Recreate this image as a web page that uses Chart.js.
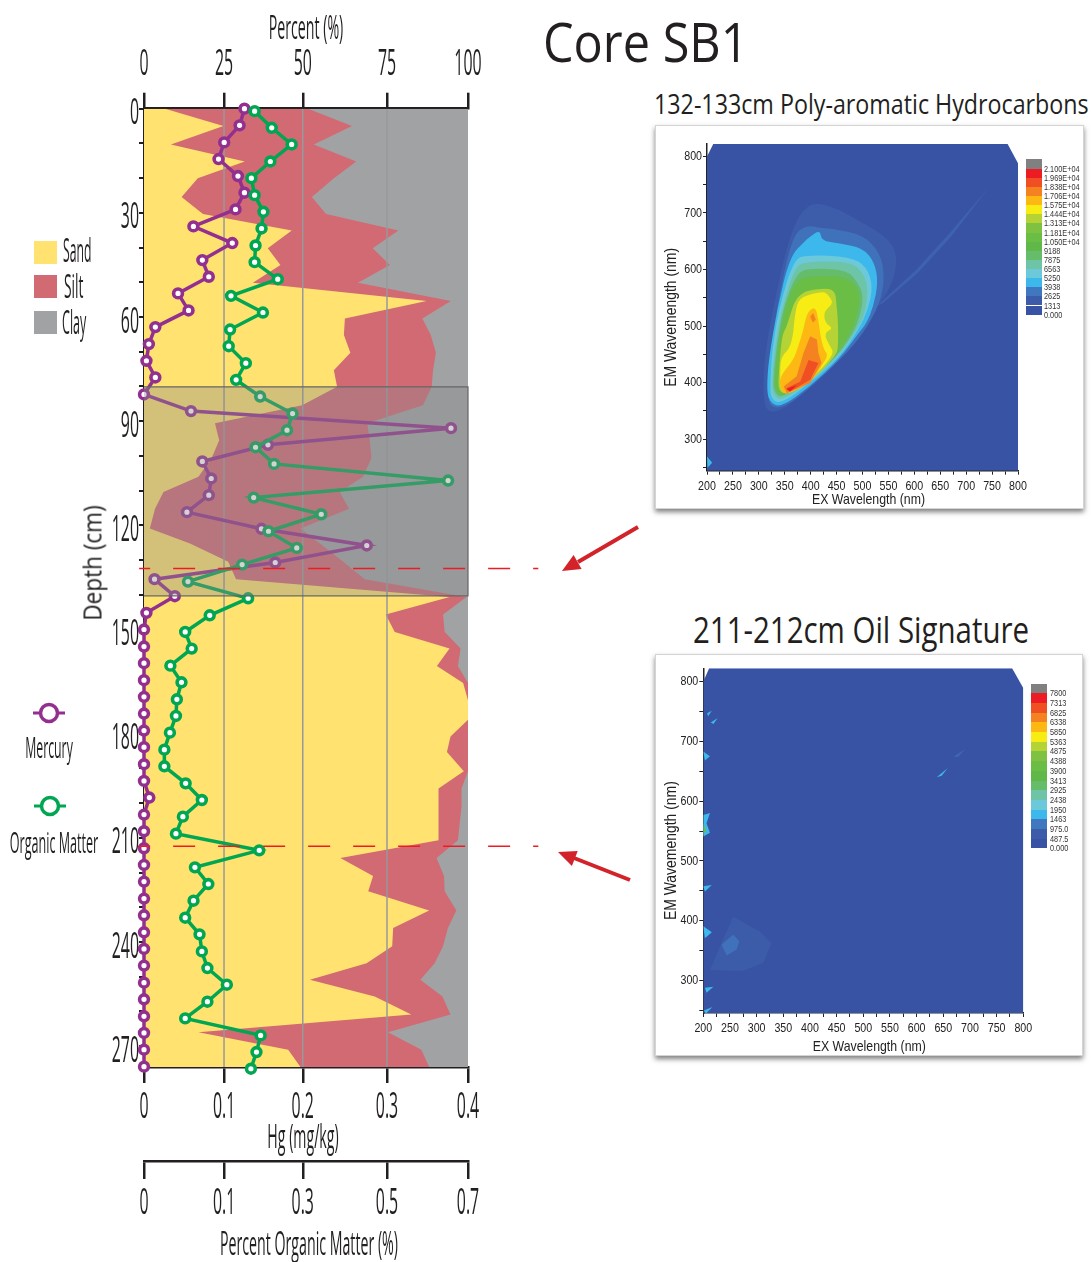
<!DOCTYPE html>
<html>
<head>
<meta charset="utf-8">
<title>Core SB1</title>
<script src="https://cdn.jsdelivr.net/npm/chart.js@4"></script>
<style>
  html, body { margin: 0; background: #fff; }
  body { position: relative; width: 1092px; height: 1262px; overflow: hidden; font-family: "Open Sans", sans-serif; color: #231f20; }
  canvas { position: absolute; display: block; }
  .txt { position: absolute; white-space: nowrap; line-height: 1; }
  .card { position: absolute; background: #fff; border: 1px solid #d4d4d4; box-sizing: border-box; box-shadow: 0 3px 5px rgba(0,0,0,.5); }
  .swatch { position: absolute; width: 23px; height: 23px; }
  .band { position: absolute; }
  .lvl { position: absolute; font: 8.5px "Liberation Sans", sans-serif; line-height: 1; white-space: nowrap; transform: scaleX(.86); transform-origin: left center; color: #333; }
</style>
</head>
<body>

<div class="txt" style="left:543px;top:14px;font-size:54px;transform:scaleX(.9);transform-origin:left">Core SB1</div>
<div class="txt" style="left:654px;top:90px;font-size:27px;transform:scaleX(.861);transform-origin:left">132-133cm Poly-aromatic Hydrocarbons</div>
<div class="txt" style="left:693px;top:612px;font-size:36px;transform:scaleX(.818);transform-origin:left">211-212cm Oil Signature</div>

<div class="card" style="left:655px;top:125px;width:429px;height:384px"></div>
<div class="card" style="left:655px;top:654px;width:428px;height:402px"></div>

<canvas id="core" width="560" height="1262" style="left:0;top:0"></canvas>
<canvas id="pah" width="429" height="384" style="left:655px;top:125px;filter:blur(.4px)"></canvas>
<canvas id="oil" width="428" height="402" style="left:655px;top:654px;filter:blur(.4px)"></canvas>

<div class="txt" style="left:92px;top:563px;font-size:25px;transform:translate(-50%,-50%) rotate(-90deg) scaleX(.9)">Depth (cm)</div>

<!-- legend -->
<div class="swatch" style="left:34px;top:241px;background:#ffe26f"></div>
<div class="swatch" style="left:34px;top:275px;background:#d26a74"></div>
<div class="swatch" style="left:34px;top:311px;background:#a0a2a4"></div>
<div class="txt" style="left:63px;top:233px;font-size:33px;transform:scaleX(.37);transform-origin:left">Sand</div>
<div class="txt" style="left:64px;top:269px;font-size:33px;transform:scaleX(.42);transform-origin:left">Silt</div>
<div class="txt" style="left:62px;top:305px;font-size:33px;transform:scaleX(.38);transform-origin:left">Clay</div>

<svg width="1092" height="1262" style="position:absolute;left:0;top:0;pointer-events:none">
  <line x1="33" y1="713" x2="65" y2="713" stroke="#93308f" stroke-width="3"/>
  <circle cx="49" cy="713" r="8.5" fill="#fff" stroke="#93308f" stroke-width="3.5"/>
  <line x1="34" y1="806" x2="66" y2="806" stroke="#00a651" stroke-width="3"/>
  <circle cx="50" cy="806" r="8.5" fill="#fff" stroke="#00a651" stroke-width="3.5"/>
  <line x1="638" y1="527" x2="578" y2="562" stroke="#d2232a" stroke-width="4"/>
  <polygon points="562,571 581.6,568.9 573.6,555.1" fill="#d2232a"/>
  <line x1="630" y1="880" x2="574" y2="858" stroke="#d2232a" stroke-width="4"/>
  <polygon points="558,852 571.9,866 577.7,851" fill="#d2232a"/>
</svg>
<div class="txt" style="left:49px;top:732px;font-size:30px;transform:translateX(-50%) scaleX(.41)">Mercury</div>
<div class="txt" style="left:54px;top:827px;font-size:30px;transform:translateX(-50%) scaleX(.42)">Organic Matter</div>

<div id="pahBar"></div>
<div id="oilBar"></div>

<script>
// grain size, cumulative percent at each sampled depth
const layerDepths = [0,5,10.3,15.2,20,25.4,30.3,35.1,40.2,45,50.1,55.4,60.4,65.2,70.3,75.3,80.1,85.4,90.6,95.5,100.6,106,110.4,115.2,120.9,125.2,130.5,135.5,140.6,145.7,150.7,155.5,160.5,165.4,170.4,176,180.8,185.3,190.8,195.8,200.9,210.7,215.8,221,225.4,230.9,236,241.2,246.1,250.9,255.7,260.9,266,271,276];
const sandEdge = [6.5,24.5,8.3,31.1,16.6,11.6,18.2,45.6,38.2,42.1,33.6,87.2,62,61.7,63.7,58.6,59.6,48.8,21.9,23.2,20.9,16.8,6,3.4,1.8,14.2,26,28.4,94.3,74.6,77.4,94.3,90.4,98.5,100,100,94.6,93.5,98.7,90.9,90.8,91,60.6,70.7,69.2,88,76.9,76.6,68.7,51.2,71.2,82.5,16.8,44.5,48.3];
const siltEdge = [50.6,64.2,52.4,65.5,58.6,51.8,56.2,78.5,70.6,75.9,66,94.7,85.9,88.5,90.1,89.2,88.8,86.1,68.9,69.7,70.2,67.6,60.4,63.3,48.3,54.3,61.5,68.1,99.5,92.3,92.8,97.7,96.9,100,100,100,100,100,100,98,98,96.9,90.3,92.6,92.8,96.4,93.8,92.3,89.7,85.3,92.1,94.6,75.3,85.6,88];

const hgDepths = [0,4.8,9.7,14.5,19.4,24.2,29,33.9,38.7,43.6,48.4,53.2,58.1,62.9,67.8,72.6,77.4,82.3,87.1,92,96.8,101.6,106.5,111.3,116.2,121,125.8,130.7,135.5,140.4,145.2,150,154.9,159.7,164.6,169.4,174.2,179.1,183.9,188.8,193.6,198.4,203.3,208.1,213,217.8,222.6,227.5,232.3,237.2,242,246.8,251.7,256.5,261.4,266.2,271,275.9];
const mercury = [.124,.118,.099,.092,.116,.124,.113,.061,.109,.072,.08,.042,.055,.014,.006,.003,.014,0,.058,.379,.153,.072,.083,.08,.053,.145,.275,.162,.013,.038,.003,0,0,0,0,0,0,0,0,0,0,.0066,0,0,0,0,0,0,0,0,0,0,0,0,0,0,0,0];

const omDepths = [.7,5.5,10.3,15.2,20,24.9,29.7,34.5,39.4,44.2,49.1,53.9,58.7,63.6,68.4,73.3,78.1,82.9,87.8,92.6,97.5,102.3,107.1,112,116.8,121.7,126.5,131.3,136.2,141,145.9,150.7,155.5,160.4,165.2,170.1,174.9,179.7,184.6,189.4,194.3,199.1,203.9,208.8,213.6,218.5,223.3,228.1,233,237.8,242.7,247.5,252.3,257.2,262,266.9,271.7,276.5];
const organicMatter = [.239,.276,.319,.273,.232,.239,.258,.254,.241,.239,.289,.188,.257,.186,.183,.22,.199,.251,.321,.309,.241,.281,.657,.237,.383,.269,.33,.212,.095,.225,.142,.089,.103,.057,.081,.071,.069,.056,.044,.044,.09,.125,.084,.069,.249,.11,.139,.107,.089,.12,.125,.137,.179,.137,.089,.252,.243,.231];

// axis ticks, the printed axes are not quite even
const percentTicks = [0,24.7,49,75,100];
const percentLabels = ['0','25','50','75','100'];
const hgTicks = [0,.099,.196,.3,.4];
const hgLabels = ['0','0.1','0.2','0.3','0.4'];
const omTicks = [0,.173,.343,.525,.7];
const omLabels = ['0','0.1','0.3','0.5','0.7'];

const shadedDepths = [80.1,140.3];
const markerDepths = [132.4,212.4];

// PAH excitation / emission contours [ex, em], lowest level first
const pahBase = [[200,800],[212,822],[780,822],[800,788],[800,244],[200,244]];
const pahStreak = [[527,535],[604,599.5],[668,664],[745,747],[671,658.5],[607,594],[540,541]];
const pahSpot = [[200,269],[210,258],[201,249]];
const pahL1 = [[309,352],[309,434.5],[328,535],[360,664],[392.5,717.5],[437,714.5],[502,682],[553,653],[569,617],[553,564],[527,535],[502,487],[457,440],[380,375.5],[335,346]];
const pahL2 = [[319,428.5],[335,535],[364,658.5],[392.5,679],[418,673],[437,673],[502,661],[534,629],[543,588],[534,540.6],[502,487],[457,440],[380,375.5],[338,352],[315.5,364]];
const pahL3 = [[315.5,393],[319,440],[335,529],[360,623],[389,650],[399,658.5],[418,670],[421,651],[450,647],[502,638],[524,611],[530,576],[521,535],[508,505],[492,487],[457,443],[399,393],[341,355],[319,367]];
const pahL4 = [[322,393],[325,452],[338,529],[367,617],[392.5,626],[476,623],[508,605],[520,570],[511,529],[492,493],[457,446],[399,399],[341,361],[323,372.5]];
const pahL5 = [[325,399],[331.5,464],[344,529],[370,605],[392.5,614],[476,614],[502,594],[511,564],[505,523],[489,493],[453,446],[399,402],[344,367],[328,378.5]];
const pahL6 = [[327,399],[335,470],[348,535],[373,594],[399,602.5],[470,599.5],[492,576],[502,552],[495,517],[482,487],[450,446],[399,405],[344,372.5],[331.5,381]];
const pahL7 = [[330,399],[338,470],[354,546.5],[376,582],[399,588],[463,588],[489,570],[495,552],[489,517],[476,487],[450,449],[399,405],[348,375.5],[335,384]];
const pahL8 = [[338,411],[344,482],[354,499],[373,558],[421,567],[447,564],[450,538],[453,505],[453,464],[450,449],[405,405],[351,378.5],[338,387]];
const pahL9 = [[341,411],[342,446],[364,464],[371,535],[383,552],[421,561],[431,558],[445,540.6],[425,526],[428,505],[444,496],[425,487],[437,464],[446,452],[412,414],[354,378.5],[342,387]];
const pahL10 = [[338,408],[367,440],[376,464],[386,493],[392.5,523],[409,535],[415,511],[418,487],[425,458],[434,449],[421,428.5],[399,399],[354,378.5],[344,384]];
const pahL11 = [[348,393],[373,411],[386,452],[399,482],[412,476],[415,452],[421,434.5],[399,399],[354,381]];
const pahBlob = [[399,517],[405,523],[410,511],[404,506]];
const pahL12 = [[353,390],[380,402],[396,440],[415,434.5],[399,405],[360,384]];
const pahL13 = [[353,388.5],[373,395],[360,384]];

// oil signature contours
const oilBase = [[200,800],[211,822],[779,822],[800,789],[800,246],[200,246]];
const oilHalo = [[212.5,318],[234,363],[256,407],[306,382],[328,363],[312.5,330],[275,316]];
const oilCore = [[234,360],[256,377],[267.5,366],[262.5,352],[244,342]];
const oilFaint = [[669,674],[691,687],[678,674]];
const oilSpots = [
  [[200,577],[212.5,580],[206,563],[212.5,547],[200,541]],
  [[200,683],[212.5,675],[203,668]],
  [[200,391],[216,381],[203,371]],
  [[200,458],[216,460],[203,449]],
  [[203,288],[219,290],[206,280]],
  [[201,250],[217,256],[205,245]],
  [[207,747],[216,751],[209,742]],
  [[214,731.5],[227,739],[219,729]],
  [[637.5,640],[658,655],[647,642.5]]
];
const oilGreen = [[200,563],[205,552],[200,542]];

// colour scale labels, top to bottom
const pahLevels = ['2.100E+04','1.969E+04','1.838E+04','1.706E+04','1.575E+04','1.444E+04','1.313E+04','1.181E+04','1.050E+04','9188','7875','6563','5250','3938','2625','1313','0.000'];
const oilLevels = ['7800','7313','6825','6338','5850','5363','4875','4388','3900','3413','2925','2438','1950','1463','975.0','487.5','0.000'];
const bandColors = ['#808080','#ed1c24','#f04e23','#f58220','#fdb813','#f7ec13','#b5d334','#7fc241','#6abd45','#60b848','#65bc6a','#6ec4a6','#6cc9d9','#3db8ec','#3f78be','#3c5ba9','#3853a4'];

// the labels in the source are squeezed sideways, canvas has no font-stretch so scale the glyphs.
// nudge moves single texts that sit off the axis middle in the source
function condense(ctx, sx, nudge) {
  const fill = ctx.fillText;
  ctx.fillText = function (t, x, y) {
    const n = nudge(t, this.textAlign);
    this.save();
    this.translate(x + n[0], y + n[1]);
    this.scale(sx, 1);
    fill.call(this, t, 0, 0);
    this.restore();
  };
  return ctx;
}

function coreNudge(t, align) {
  if (align === 'right') return [0, 5];
  if (t === 'Hg (mg/kg)') return [-3, -3];
  if (t === 'Percent Organic Matter (%)') return [3, 3];
  return [0, 0];
}

function panelNudge(t) {
  if (t.indexOf('EM') === 0) return [-10, 0];
  if (t.indexOf('EX') === 0) return [6, 0];
  return [0, 0];
}

function zipXY(xs, ys) {
  return xs.map(function (x, i) { return { x: x, y: ys[i] }; });
}

function areaSet(edge, color, order) {
  return {
    data: zipXY(edge, layerDepths), xAxisID: 'xPercent', yAxisID: 'y', order: order,
    fill: 'start', backgroundColor: color, borderWidth: 0, pointRadius: 0
  };
}

function seriesSet(values, depths, axis, color, order) {
  return {
    data: zipXY(values, depths), xAxisID: axis, yAxisID: 'y', order: order, clip: false,
    borderColor: color, borderWidth: 3.5, backgroundColor: '#fff',
    pointRadius: 4.4, pointBorderWidth: 3.6, pointBorderColor: color, pointBackgroundColor: '#fff'
  };
}

function axisX(position, weight, height, ticks, labels, min, max, tickLen, padding) {
  return {
    type: 'linear', position: position, weight: weight, min: min, max: max,
    afterFit: function (s) { s.height = height; },
    afterBuildTicks: function (s) { s.ticks = ticks.map(function (v) { return { value: v }; }); },
    grid: { drawOnChartArea: false, color: '#231f20', lineWidth: 2.5, tickLength: tickLen },
    border: { color: '#231f20', width: 2.5 },
    ticks: {
      autoSkip: false, maxRotation: 0, padding: padding, color: '#231f20',
      font: { family: 'Open Sans', size: 37 },
      callback: function (v, i) { return labels[i]; }
    },
    title: { display: false }
  };
}

var hgAxis = axisX('bottom', 1, 94, hgTicks, hgLabels, 0, .4, 16, 2);
hgAxis.title = { display: true, text: 'Hg (mg/kg)', color: '#231f20', font: { family: 'Open Sans', size: 33 }, padding: { top: -2, bottom: 0 } };
var omAxis = axisX('bottom', 2, 101, omTicks, omLabels, 0, .7, 18, 2);
omAxis.title = { display: true, text: 'Percent Organic Matter (%)', color: '#231f20', font: { family: 'Open Sans', size: 33 }, padding: { top: -2, bottom: 0 } };
var topAxis = axisX('top', 1, 108.7, percentTicks, percentLabels, 0, 100, 16, 6);
topAxis.title = { display: true, text: 'Percent (%)', color: '#231f20', font: { family: 'Open Sans', size: 33 }, padding: { top: 10, bottom: 0 } };

var coreSets = [
  areaSet(layerDepths.map(function () { return 100; }), '#a0a2a4', 20),
  areaSet(siltEdge, '#d26a74', 19),
  areaSet(sandEdge, '#ffe26f', 18)
];
percentTicks.slice(1, 4).forEach(function (t) {
  coreSets.push({
    data: [{ x: t, y: 0 }, { x: t, y: 276 }], xAxisID: 'xPercent', yAxisID: 'y', order: 10,
    borderColor: '#97999b', borderWidth: 1.5, pointRadius: 0
  });
});
coreSets.push(seriesSet(mercury, hgDepths, 'xHg', '#93308f', 5));
coreSets.push(seriesSet(organicMatter, omDepths, 'xOm', '#00a651', 4));
// grey box over the 80-140 cm interval
coreSets.push({
  data: [{ x: 100, y: shadedDepths[0] }, { x: 100, y: shadedDepths[1] }], xAxisID: 'xPercent', yAxisID: 'y', order: 2,
  fill: 'start', backgroundColor: 'rgba(140,140,140,.38)', borderWidth: 0, pointRadius: 0
});
coreSets.push({
  data: [{ x: 0, y: shadedDepths[0] }, { x: 100, y: shadedDepths[0] }, { x: 100, y: shadedDepths[1] }, { x: 0, y: shadedDepths[1] }],
  xAxisID: 'xPercent', yAxisID: 'y', order: 1, clip: false, borderColor: '#666', borderWidth: 1.2, pointRadius: 0
});
// dashed markers running out of the plot towards the spectra
markerDepths.forEach(function (d) {
  coreSets.push({
    data: [{ x: -1.5, y: d }, { x: 121.7, y: d }], xAxisID: 'xPercent', yAxisID: 'y', order: 0, clip: false,
    borderColor: '#ed1c24', borderWidth: 1.5, borderDash: [22, 23], borderDashOffset: 11, pointRadius: 0
  });
});

new Chart(condense(document.getElementById('core').getContext('2d'), .43, coreNudge), {
  type: 'line',
  data: { datasets: coreSets },
  options: {
    indexAxis: 'y', responsive: false, animation: false,
    layout: { padding: { right: 92 } },
    plugins: { legend: { display: false }, tooltip: { enabled: false } },
    scales: {
      y: {
        type: 'linear', position: 'left', reverse: true, min: 0, max: 276,
        afterFit: function (s) { s.width = 144; },
        grid: { drawOnChartArea: false, color: '#231f20', lineWidth: 2, tickLength: 5 },
        border: { color: '#231f20', width: 2.5 },
        ticks: {
          stepSize: 10, autoSkip: false, includeBounds: false, padding: 0, color: '#231f20',
          font: { family: 'Open Sans', size: 37 },
          callback: function (v) { return v % 30 === 0 ? String(v) : ''; }
        }
      },
      xPercent: topAxis,
      xHg: hgAxis,
      xOm: omAxis
    }
  }
});

// fills every dataset as one closed polygon, the points still come from the scales.
// long outlines get rounded so they read as contours
const polygonFill = {
  id: 'polygonFill',
  beforeDatasetDraw: function (chart, args) {
    const ctx = chart.ctx, a = chart.chartArea, pts = args.meta.data;
    const n = pts.length;
    ctx.save();
    ctx.beginPath();
    ctx.rect(a.left, a.top, a.right - a.left, a.bottom - a.top);
    ctx.clip();
    ctx.beginPath();
    if (n >= 12) {
      ctx.moveTo((pts[n - 1].x + pts[0].x) / 2, (pts[n - 1].y + pts[0].y) / 2);
      pts.forEach(function (p, i) {
        const q = pts[(i + 1) % n];
        ctx.quadraticCurveTo(p.x, p.y, (p.x + q.x) / 2, (p.y + q.y) / 2);
      });
    } else {
      pts.forEach(function (p, i) {
        if (i === 0) ctx.moveTo(p.x, p.y); else ctx.lineTo(p.x, p.y);
      });
    }
    ctx.closePath();
    ctx.fillStyle = chart.data.datasets[args.index].backgroundColor;
    ctx.fill();
    ctx.restore();
  }
};

function contourChart(id, layers, box, emMin) {
  const sets = layers.map(function (l, i) {
    return {
      data: l[0].map(function (p) { return { x: p[0], y: p[1] }; }),
      backgroundColor: l[1], pointRadius: 0, showLine: false, order: layers.length - i
    };
  });
  return new Chart(condense(document.getElementById(id).getContext('2d'), .82, panelNudge), {
    type: 'scatter',
    data: { datasets: sets },
    plugins: [polygonFill],
    options: {
      responsive: false, animation: false,
      layout: { padding: { top: box.top, right: box.right } },
      plugins: { legend: { display: false }, tooltip: { enabled: false } },
      scales: {
        x: {
          type: 'linear', min: 200, max: 800,
          afterFit: function (s) { s.height = box.bottom; },
          grid: { drawOnChartArea: false, color: '#222', tickLength: 4 },
          border: { color: '#222', width: 1.5 },
          ticks: {
            stepSize: 25, autoSkip: false, maxRotation: 0, padding: 4, color: '#222', font: { family: 'Liberation Sans', size: 13 },
            callback: function (v) { return v % 50 === 0 ? String(v) : ''; }
          },
          title: { display: true, text: 'EX Wavelength (nm)', color: '#222', font: { family: 'Liberation Sans', size: 15 }, padding: 0 }
        },
        y: {
          type: 'linear', min: emMin, max: 822,
          afterFit: function (s) { s.width = box.left; },
          grid: { drawOnChartArea: false, color: '#222', tickLength: 4 },
          border: { color: '#222', width: 1.5 },
          ticks: {
            stepSize: 50, autoSkip: false, includeBounds: false, padding: 1, color: '#222', font: { family: 'Liberation Sans', size: 13 },
            callback: function (v) { return v % 100 === 0 ? String(v) : ''; }
          },
          title: { display: true, text: 'EM Wavemength (nm)', color: '#222', font: { family: 'Liberation Sans', size: 17 }, padding: { top: 6, bottom: 0 } }
        }
      }
    }
  });
}

contourChart('pah', [
  [pahBase, '#3853a4'], [pahStreak, '#3f62b0'], [pahSpot, '#3db8ec'], [pahL1, '#3d5dab'], [pahL2, '#3f72ba'],
  [pahL3, '#3db8ec'], [pahL4, '#6cc9d9'], [pahL5, '#6ec4a6'], [pahL6, '#65bc6a'], [pahL7, '#6abd45'],
  [pahL8, '#b5d334'], [pahL9, '#f7ec13'], [pahL10, '#fdb813'], [pahL11, '#f58220'], [pahBlob, '#f58220'],
  [pahL12, '#f04e23'], [pahL13, '#ed1c24']
], { top: 19, right: 66, bottom: 38.3, left: 52 }, 244);

contourChart('oil', [
  [oilBase, '#3853a4'], [oilHalo, '#3c5ba9'], [oilCore, '#3f72ba'], [oilFaint, '#4068b4']
].concat(oilSpots.map(function (s) { return [s, '#3db8ec']; })).concat([[oilGreen, '#6abd45']]),
  { top: 14.3, right: 59.7, bottom: 43, left: 48.3 }, 246);

// colour bars next to the spectra
function colorBar(holderId, levels, x, w, top, firstLabel, step, labelX) {
  const holder = document.getElementById(holderId);
  bandColors.forEach(function (c, i) {
    const b = document.createElement('div');
    b.className = 'band';
    const y0 = i === 0 ? top : firstLabel + (i - 1) * step;
    b.style.cssText = 'left:' + x + 'px;width:' + w + 'px;top:' + y0 + 'px;height:' + (i === 0 ? firstLabel - top : step) + 'px;background:' + c;
    holder.appendChild(b);
  });
  levels.forEach(function (t, i) {
    const l = document.createElement('div');
    l.className = 'lvl';
    l.textContent = t;
    l.style.left = labelX + 'px';
    l.style.top = (firstLabel + i * step - 4) + 'px';
    holder.appendChild(l);
  });
}
colorBar('pahBar', pahLevels, 1025.7, 16, 159.3, 168.7, 9.12, 1044);
colorBar('oilBar', oilLevels, 1030.7, 16.6, 684, 693.3, 9.69, 1050);
</script>
</body>
</html>
